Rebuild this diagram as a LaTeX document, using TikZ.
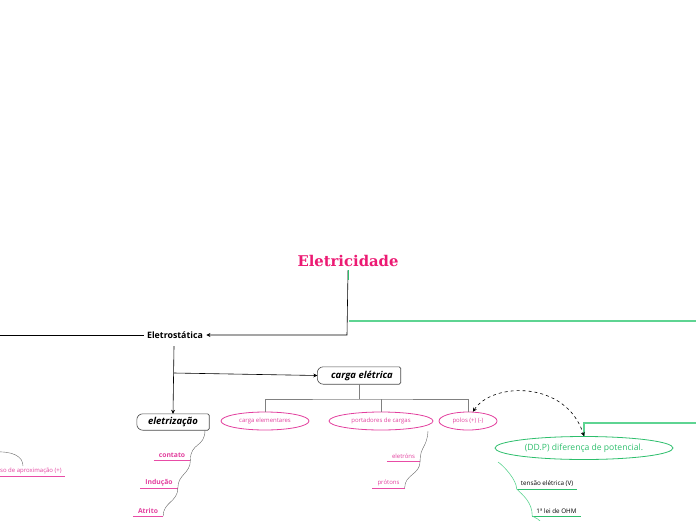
\documentclass[tikz,border=0pt]{standalone}
\usepackage{fontspec}
\setmainfont{Open Sans}
\newfontfamily\titlefont{DejaVu Serif}
\usetikzlibrary{arrows.meta,shapes.geometric}

\definecolor{titlepink}{HTML}{EC1A73}
\definecolor{leafpink}{HTML}{E2409E}
\definecolor{rulepink}{HTML}{E84CA6}
\definecolor{ddpgreen}{HTML}{2DBE6C}
\definecolor{palegreen}{HTML}{5ED492}

\tikzset{
  mainline/.style={black, semithick},
  topicbox/.style={font=\bfseries\itshape\fontsize{9.5}{11}\selectfont, inner sep=0pt},
  oval/.style={ellipse, draw=leafpink, thick, text=leafpink, minimum height=18pt, inner sep=0pt, font=\fontsize{6}{7}\selectfont},
  leaf/.style={anchor=south, text=leafpink, inner xsep=5pt, inner ysep=2pt, font=\bfseries\fontsize{6.8}{8}\selectfont},
  smallleaf/.style={anchor=south, text=leafpink, inner xsep=5pt, inner ysep=2pt, font=\fontsize{6}{7}\selectfont},
  greenleaf/.style={anchor=south, text=black, inner xsep=4pt, inner ysep=2pt, font=\fontsize{6.3}{7}\selectfont},
  twig/.style={gray!80!black, thin},
}

\begin{document}
\begin{tikzpicture}[x=1pt, y=-1pt]
    \useasboundingbox (0,0) rectangle (696,520);
    \clip (0,0) rectangle (696,520);

    % centro
    \node[text=titlepink, font=\titlefont\bfseries\fontsize{14.8}{17}\selectfont] (root) at (348,261) {Eletricidade};
    \node[font=\bfseries\fontsize{8.8}{10}\selectfont] (eo) at (175,335) {Eletrostática};
    \coordinate (rj) at (347,335);
    \coordinate (lft) at (-5,335);
    \coordinate (rg) at (349,321);
    \coordinate (re) at (700,321);

    \draw[palegreen, very thick] (rg) -- (re);
    \draw[mainline, -{Stealth[length=4pt,width=4pt]}] (root.south) -- (rj) -- (eo.east);
    \draw[ddpgreen, thick] (root.south) -- ++(0,10);
    \draw[mainline] (lft) -- (eo.west);

    % eletrizacao
    \node[topicbox, minimum width=72pt, minimum height=16pt] (ez) at (173,422) {eletrização};
    \draw[black!70, semithick] (ez.south) [rounded corners=1.5pt] -- (ez.south east) -- (ez.north east) -- (ez.north) [rounded corners=6pt] -- (ez.north west) -- (ez.south west) -- (ez.south);
    \coordinate (ej) at (174,373);
    \draw[mainline, -{Stealth[length=4pt,width=4pt]}] (174,346) -- (ez.north);

    % carga eletrica
    \node[topicbox, minimum width=83pt, minimum height=17pt] (cg) at (359,375.5) {\hspace*{6pt}carga elétrica};
    \draw[black!70, semithick] (cg.south) [rounded corners=1.5pt] -- (cg.south east) -- (cg.north east) -- (cg.north) [rounded corners=6pt] -- (cg.north west) -- (cg.south west) -- (cg.south);
    \draw[mainline, -{Stealth[length=4pt,width=4pt]}] (ej) -- (cg.west);

    \node[oval, minimum width=88pt] (e1) at (265,421) {carga elementares};
    \node[oval, minimum width=104pt] (e2) at (381,421) {portadores de cargas};
    \node[oval, minimum width=58pt] (e3) at (468,421) {polos (+) (-)};
    \coordinate (bar) at (359,399);
    \draw[gray, semithick] (cg.south) -- (bar);
    \draw[gray, semithick] (e1.north) |- (bar) -| (e3.north);
    \draw[gray, semithick] (e2.north) -- (e2.north |- bar);

    % ddp
    \node[ellipse, draw=ddpgreen, thick, text=ddpgreen, minimum width=178pt, minimum height=23pt, inner sep=0pt, font=\fontsize{8.6}{10}\selectfont] (ddp) at (584,448) {(DD.P) diferença de potencial.};
    \coordinate (gr) at (700,423);
    \draw[palegreen, very thick] (ddp.north) |- (gr);
    \draw[dashed, semithick, {Stealth[length=4pt,width=4pt]}-{Stealth[length=4pt,width=4pt]}] (e3.62) .. controls (492,382) and (566,380) .. (ddp.north);

    % folhas
    \node[leaf] (c1) at (172,460) {contato};
    \node[leaf] (c2) at (159,488) {Indução};
    \node[leaf] (c3) at (148,516) {Atrito};
    \draw[rulepink, thick] (c1.south west) -- (c1.south east);
    \draw[rulepink, thick] (c2.south west) -- (c2.south east);
    \draw[rulepink, thick] (c3.south west) -- (c3.south east);
    \draw[twig] (205,430) .. controls (205,448) and (c1.south east |- 0,442) .. (c1.south east);
    \draw[twig] (c1.south east) .. controls +(0,14) and +(0,-14) .. (c2.south east);
    \draw[twig] (c2.south east) .. controls +(0,14) and +(0,-14) .. (c3.south east);

    \node[smallleaf, anchor=south west, inner xsep=0pt] (ap) at (0,476) {so de aproximação (+)};
    \coordinate (apr) at (65,476);
    \draw[rulepink, thick] (ap.south west) -- (apr);
    \coordinate (al) at (-5,452);
    \draw[twig] (al) .. controls (12,451) and (23,456) .. (23,466);

    \node[smallleaf] (p1) at (403.5,461) {eletróns};
    \node[smallleaf] (p2) at (388.5,488) {prótons};
    \draw[rulepink, thick] (p1.south west) -- (p1.south east);
    \draw[rulepink, thick] (p2.south west) -- (p2.south east);
    \draw[twig] (428,431) .. controls (427,448) and (p1.south east |- 0,446) .. (p1.south east);
    \draw[twig] (p1.south east) .. controls +(0,14) and +(0,-14) .. (p2.south east);

    \node[greenleaf] (g1) at (547,489) {tensão elétrica (V)};
    \node[greenleaf] (g2) at (556.5,516) {1ª lei de OHM};
    \draw[ddpgreen, thick] (g1.south west) -- (g1.south east);
    \draw[ddpgreen, thick] (g2.south west) -- (g2.south east);
    \draw[palegreen, semithick] (498,462) .. controls (504,466) and (g1.south west |- 0,480) .. (g1.south west);
    \draw[palegreen, semithick] (g1.south west) .. controls +(6,6) and +(0,-14) .. (g2.south west);
    \draw[palegreen, semithick] (g2.south west) .. controls +(5,3) and +(-2,-3) .. (541,522);
\end{tikzpicture}
\end{document}
